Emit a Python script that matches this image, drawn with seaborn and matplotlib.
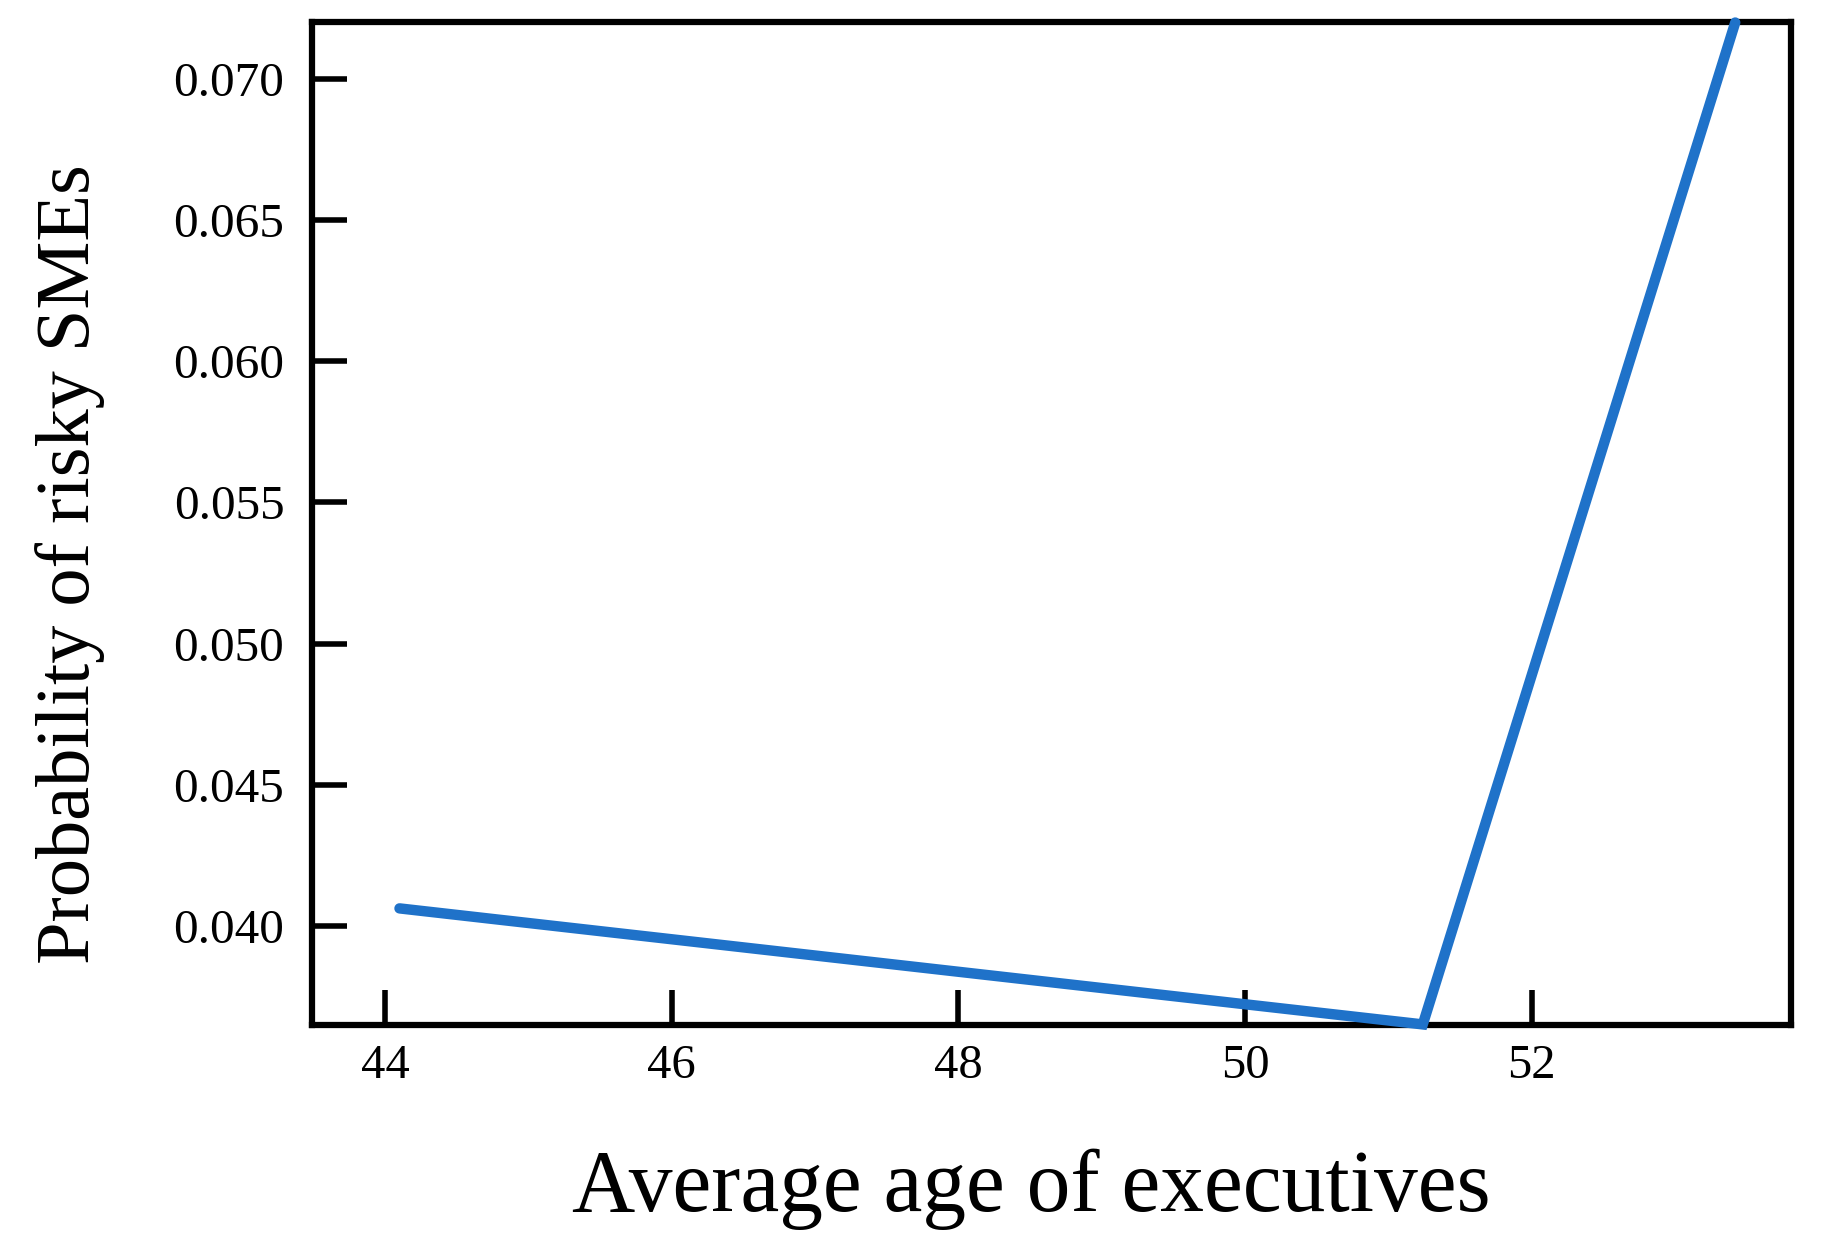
import pandas as pd
import numpy as np
import matplotlib.pyplot as plt
import seaborn as sns

# values
age = [44.1, 51.24, 53.42]
prob = [0.04062, 0.03651, 0.0720]
xticks = [44, 46, 48, 50, 52]
yticks = [0.040, 0.045, 0.050, 0.055, 0.060, 0.065, 0.070]

sns.set_style('ticks')
plt.rcParams['font.family'] = ['Liberation Serif', 'DejaVu Serif']
plt.rcParams['text.color'] = 'black'
plt.rcParams['axes.labelcolor'] = 'black'
plt.rcParams['xtick.color'] = 'black'
plt.rcParams['ytick.color'] = 'black'

df = pd.DataFrame({'age': age, 'prob': prob})

fig = plt.figure(figsize=(18.26, 12.48), dpi=100)
ax = fig.add_axes([0.1709, 0.1787, 0.81, 0.8037])
sns.lineplot(data=df, x='age', y='prob', ax=ax, color='#1f72c9', linewidth=7.5,
             solid_capstyle='round', solid_joinstyle='miter', clip_on=False, zorder=5)

ax.set_xlim(43.49, 53.81)
ax.set_ylim(0.03649, 0.07202)
ax.set_xticks(xticks)
ax.set_xticklabels([str(t) for t in xticks])
ax.set_yticks(yticks)
ax.set_yticklabels(['%.3f' % t for t in yticks])

for s in ax.spines.values():
    s.set_visible(True)
    s.set_linewidth(4.5)
    s.set_color('black')
ax.tick_params(axis='both', direction='in', length=25, width=4, color='black',
               labelcolor='black')
ax.tick_params(axis='x', labelsize=35, pad=14)
ax.tick_params(axis='y', labelsize=35.5, pad=20)

ax.set_xlabel('Average age of executives', fontsize=63)
ax.set_ylabel('Probability of risky SMEs', fontsize=55)
ax.xaxis.set_label_coords(0.486, -0.123)
ax.yaxis.set_label_coords(-0.140, 0.459)

plt.savefig('out.png', dpi=100)
plt.close()
